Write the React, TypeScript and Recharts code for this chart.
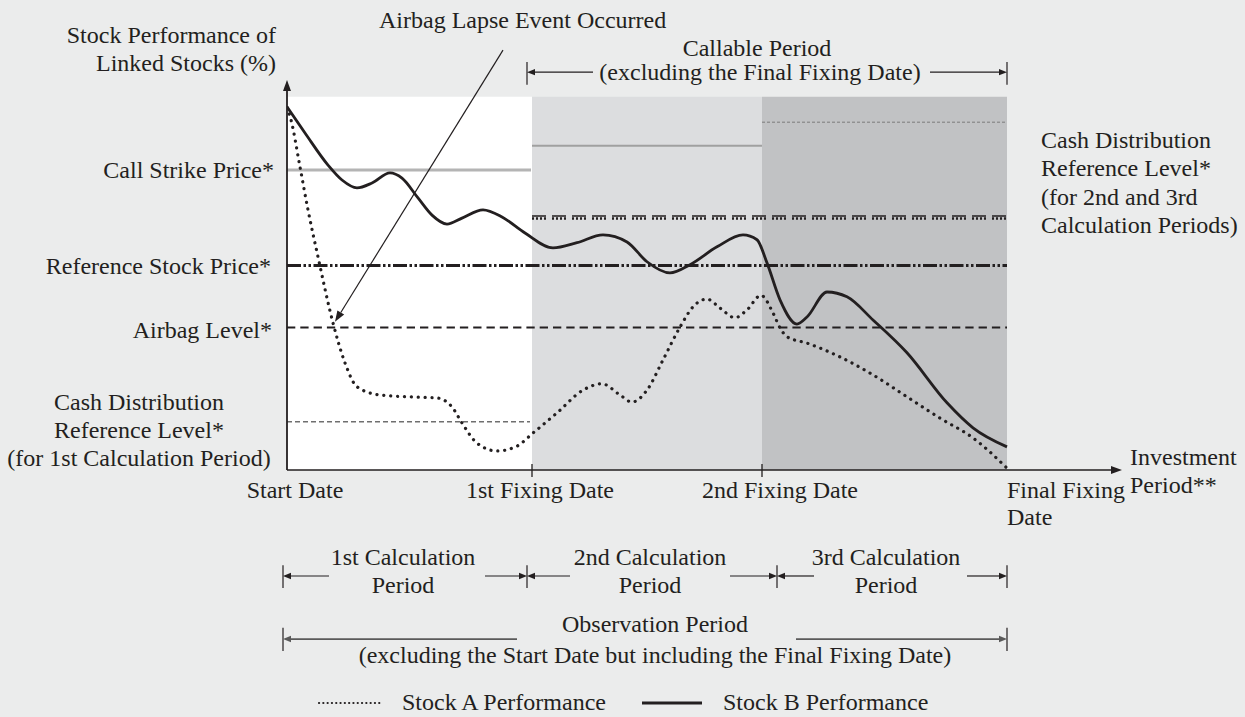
import React from "react";
import {
  ComposedChart,
  Line,
  XAxis,
  YAxis,
  ReferenceArea,
  ReferenceLine,
} from "recharts";

const FONT = '"Liberation Serif", "Times New Roman", serif';
const INK = "#231f20";

// time axis: start date = 0, fixing dates, final fixing date
const fixingDates = [0, 24.5, 47.5, 72];
const fixingLabels = ["Start Date", "1st Fixing Date", "2nd Fixing Date", "Final Fixing\nDate"];

// Stock A (dotted)
const stockATime = [
  0, 0.4, 1.3, 2.1, 3.1, 4.6, 5.8, 7.0, 9.3, 12.3, 15.0, 16.5, 17.5, 19.0, 21.0, 23.0, 24.6,
  27.0, 29.6, 31.5, 33.3, 34.5, 36.0, 37.6, 39.3, 40.6, 42.0, 43.3, 44.8, 46.0, 47.4,
  48.6, 49.3, 50.0, 52.0, 55.3, 58.6, 62.0, 65.3, 68.6, 72.0,
];
const stockAPerf = [
  97.1, 93.8, 81.2, 69.7, 57.1, 39.4, 28.7, 22.3, 20.1, 19.6, 19.3, 16.9, 12.6, 7.2, 5.1, 6.4, 9.9,
  15.3, 21.4, 23.1, 20.1, 18.2, 21.4, 29.5, 38.3, 43.7, 45.8, 43.4, 40.8, 42.9, 46.8,
  42.1, 38.1, 35.7, 34.0, 30.3, 25.5, 19.6, 13.9, 8.6, 0.5,
];

// Stock B (solid)
const stockBTime = [
  0, 1.8, 4.1, 5.5, 7.0, 8.5, 10.3, 11.5, 13.1, 14.5, 16.0, 17.5, 19.6, 21.5, 23.8, 26.6,
  29.0, 31.6, 34.0, 36.0, 38.3, 40.3, 43.0, 45.6, 47.0, 48.0, 49.3, 51.0, 52.0, 54.0,
  56.0, 58.6, 62.0, 66.0, 68.6, 72.0,
];
const stockBPerf = [
  97.3, 90.3, 81.7, 77.7, 75.6, 76.9, 79.6, 78.2, 72.9, 68.3, 65.9, 67.5, 69.7, 67.8, 63.5, 59.5,
  60.9, 63.0, 61.1, 55.8, 52.8, 55.0, 59.8, 63.0, 61.7, 55.5, 45.6, 39.1, 41.0, 47.7,
  46.4, 40.2, 31.4, 18.0, 11.3, 6.2,
];

// levels
const callStrikeLevels = [80.4, 86.9, 93.2]; // 1st, 2nd, 3rd calculation period
const cashRefFirst = 12.9;
const cashRefLater = 67.8;
const referenceLevel = 54.8;
const airbagLevel = 38.2;

const stockA = stockATime.map((t, i) => ({ t, v: stockAPerf[i] }));
const stockB = stockBTime.map((t, i) => ({ t, v: stockBPerf[i] }));

const arrowShape = (head: boolean, w: number, color: string, hl = 9, hw = 3.5) => (p: any) => {
  const { x1, y1, x2, y2 } = p;
  if (!head) return <line x1={x1} y1={y1} x2={x2} y2={y2} stroke={color} strokeWidth={w} />;
  const dx = x2 - x1;
  const dy = y2 - y1;
  const len = Math.hypot(dx, dy) || 1;
  const ux = dx / len;
  const uy = dy / len;
  const bx = x2 - ux * hl;
  const by = y2 - uy * hl;
  const pts = `${x2},${y2} ${bx - uy * hw},${by + ux * hw} ${bx + uy * hw},${by - ux * hw}`;
  return (
    <g>
      <line x1={x1} y1={y1} x2={bx} y2={by} stroke={color} strokeWidth={w} />
      <polygon points={pts} fill={color} />
    </g>
  );
};

const tickShift = [8, 8, 18, 0];

function FixingTick(props: any) {
  const { x, y, payload } = props;
  const i = fixingDates.indexOf(payload.value);
  const lines = (fixingLabels[i] ?? "").split("\n");
  const last = i === fixingDates.length - 1;
  const tx = x + tickShift[i];
  return (
    <g>
      {(i === 1 || i === 2) && (
        <line x1={x} x2={x} y1={y - 6} y2={y + 7} stroke={INK} strokeWidth={1.3} />
      )}
      <text
        x={tx}
        y={y + 28}
        textAnchor={last ? "start" : "middle"}
        fontFamily={FONT}
        fontSize={24}
        fill={INK}
      >
        {lines.map((l, k) => (
          <tspan key={k} x={tx} dy={k === 0 ? 0 : 27}>
            {l}
          </tspan>
        ))}
      </text>
    </g>
  );
}

// [t1, v1, t2, v2, arrowhead]
const brackets: [number, number, number, number, boolean][] = [
  // callable period
  [24.0, 109.3, 24.0, 103.2, false],
  [72.0, 109.3, 72.0, 103.2, false],
  [30.6, 106.6, 24.0, 106.6, true],
  [64.3, 106.6, 72.0, 106.6, true],
  // calculation periods
  [-0.4, -25.5, -0.4, -31.6, false],
  [24.0, -25.5, 24.0, -31.6, false],
  [49.0, -25.5, 49.0, -31.6, false],
  [72.0, -25.5, 72.0, -31.6, false],
  [4.2, -28.4, -0.4, -28.4, true],
  [19.8, -28.4, 24.0, -28.4, true],
  [28.3, -28.4, 24.0, -28.4, true],
  [44.3, -28.4, 49.0, -28.4, true],
  [52.7, -28.4, 49.0, -28.4, true],
  [68.0, -28.4, 72.0, -28.4, true],
  // observation period
  [-0.4, -42.3, -0.4, -48.5, false],
  [72.0, -42.3, 72.0, -48.5, false],
];
const obsArrows: [number, number, number, number][] = [
  [23.0, -45.3, -0.4, -45.3],
  [50.9, -45.3, 72.0, -45.3],
];

type Txt = [number, number, "start" | "middle" | "end", string];
const texts: Txt[] = [
  [276, 43, "end", "Stock Performance of"],
  [276, 71, "end", "Linked Stocks (%)"],
  [379, 28, "start", "Airbag Lapse Event Occurred"],
  [757, 56, "middle", "Callable Period"],
  [760, 80, "middle", "(excluding the Final Fixing Date)"],
  [274, 178, "end", "Call Strike Price*"],
  [271, 274, "end", "Reference Stock Price*"],
  [272, 338, "end", "Airbag Level*"],
  [139, 410, "middle", "Cash Distribution"],
  [139, 438, "middle", "Reference Level*"],
  [139, 466, "middle", "(for 1st Calculation Period)"],
  [1041, 148, "start", "Cash Distribution"],
  [1041, 176, "start", "Reference Level*"],
  [1041, 205, "start", "(for 2nd and 3rd"],
  [1041, 233, "start", "Calculation Periods)"],
  [1130, 465, "start", "Investment"],
  [1130, 493, "start", "Period**"],
  [403, 565, "middle", "1st Calculation"],
  [403, 593, "middle", "Period"],
  [650, 565, "middle", "2nd Calculation"],
  [650, 593, "middle", "Period"],
  [886, 565, "middle", "3rd Calculation"],
  [886, 593, "middle", "Period"],
  [655, 632, "middle", "Observation Period"],
  [655, 663, "middle", "(excluding the Start Date but including the Final Fixing Date)"],
  [402, 710, "start", "Stock A Performance"],
  [723, 710, "start", "Stock B Performance"],
];

export default function App() {
  return (
    <div style={{ position: "relative", width: 1245, height: 717, background: "#ebecec" }}>
      <style>{"body{margin:0}"}</style>
      <ComposedChart
        width={1245}
        height={717}
        margin={{ top: 80, right: 123, bottom: 217, left: 287 }}
      >
        <XAxis
          dataKey="t"
          type="number"
          domain={[0, 83.5]}
          ticks={fixingDates}
          interval={0}
          axisLine={false}
          tickLine={false}
          tickSize={0}
          tickMargin={0}
          height={30}
          tick={<FixingTick />}
          allowDataOverflow
        />
        <YAxis type="number" domain={[0, 104.5]} hide allowDataOverflow />

        <ReferenceArea x1={0} x2={24.5} y1={0} y2={100} fill="#ffffff" fillOpacity={1} stroke="none" ifOverflow="visible" />
        <ReferenceArea x1={24.5} x2={47.5} y1={0} y2={100} fill="#dcdddf" fillOpacity={1} stroke="none" ifOverflow="visible" />
        <ReferenceArea x1={47.5} x2={72} y1={0} y2={100} fill="#c1c2c4" fillOpacity={1} stroke="none" ifOverflow="visible" />

        <ReferenceLine segment={[{ x: 0, y: callStrikeLevels[0] }, { x: 24.4, y: callStrikeLevels[0] }]} stroke="#b4b4b4" strokeWidth={3} ifOverflow="visible" />
        <ReferenceLine segment={[{ x: 24.5, y: callStrikeLevels[1] }, { x: 47.5, y: callStrikeLevels[1] }]} stroke="#a0a0a0" strokeWidth={2} ifOverflow="visible" />
        <ReferenceLine segment={[{ x: 47.5, y: callStrikeLevels[2] }, { x: 72, y: callStrikeLevels[2] }]} stroke="#7a7a7a" strokeWidth={1} strokeDasharray="3 2" ifOverflow="visible" />

        <ReferenceLine segment={[{ x: 24.5, y: cashRefLater + 0.25 }, { x: 72, y: cashRefLater + 0.25 }]} stroke={INK} strokeWidth={1.5} strokeDasharray="14 6" ifOverflow="visible" />
        <ReferenceLine segment={[{ x: 24.5, y: cashRefLater - 0.4 }, { x: 72, y: cashRefLater - 0.4 }]} stroke={INK} strokeWidth={2.5} strokeDasharray="2 2 2 2 2 2 2 6" ifOverflow="visible" />

        <ReferenceLine segment={[{ x: 0, y: referenceLevel }, { x: 72, y: referenceLevel }]} stroke={INK} strokeWidth={3} strokeDasharray="14 2.5 2.5 2.5 2.5 2.5" ifOverflow="visible" />
        <ReferenceLine segment={[{ x: 0, y: airbagLevel }, { x: 72, y: airbagLevel }]} stroke={INK} strokeWidth={2} strokeDasharray="8.3 5" ifOverflow="visible" />
        <ReferenceLine segment={[{ x: 0, y: cashRefFirst }, { x: 24.3, y: cashRefFirst }]} stroke="#6f6f6f" strokeWidth={1.5} strokeDasharray="5 3" ifOverflow="visible" />

        {/* axes with arrowheads */}
        <ReferenceLine segment={[{ x: 0, y: 0 }, { x: 0, y: 104.5 }]} ifOverflow="visible" shape={arrowShape(true, 1.8, INK, 11, 4)} />
        <ReferenceLine segment={[{ x: 0, y: 0 }, { x: 83.5, y: 0 }]} ifOverflow="visible" shape={arrowShape(true, 1.5, INK, 11, 4)} />

        {/* airbag lapse pointer */}
        <ReferenceLine segment={[{ x: 21.6, y: 112.5 }, { x: 4.8, y: 39.7 }]} ifOverflow="visible" shape={arrowShape(true, 1.2, INK, 11, 4)} />

        {brackets.map(([a, b, c, d, h], i) => (
          <ReferenceLine key={`b${i}`} segment={[{ x: a, y: b }, { x: c, y: d }]} ifOverflow="visible" shape={arrowShape(h, 1.2, INK, 8, 3.2)} />
        ))}
        {obsArrows.map(([a, b, c, d], i) => (
          <ReferenceLine key={`o${i}`} segment={[{ x: a, y: b }, { x: c, y: d }]} ifOverflow="visible" shape={arrowShape(true, 1.8, "#5a5a5a", 8, 3.2)} />
        ))}

        <Line data={stockA} dataKey="v" type="monotone" stroke={INK} strokeWidth={3.2} strokeDasharray="0.1 6.8" strokeLinecap="round" dot={false} activeDot={false} isAnimationActive={false} />
        <Line data={stockB} dataKey="v" type="monotone" stroke={INK} strokeWidth={2.8} dot={false} activeDot={false} isAnimationActive={false} />
      </ComposedChart>

      <svg width={1245} height={717} style={{ position: "absolute", left: 0, top: 0, pointerEvents: "none" }}>
        <line x1={319} x2={382} y1={703} y2={703} stroke={INK} strokeWidth={2.2} strokeDasharray="0.1 4.2" strokeLinecap="round" />
        <line x1={642} x2={702} y1={703} y2={703} stroke={INK} strokeWidth={3} />
        {texts.map(([x, y, anchor, s], i) => (
          <text key={i} x={x} y={y} textAnchor={anchor} fontFamily={FONT} fontSize={24} fill={INK}>
            {s}
          </text>
        ))}
      </svg>
    </div>
  );
}
